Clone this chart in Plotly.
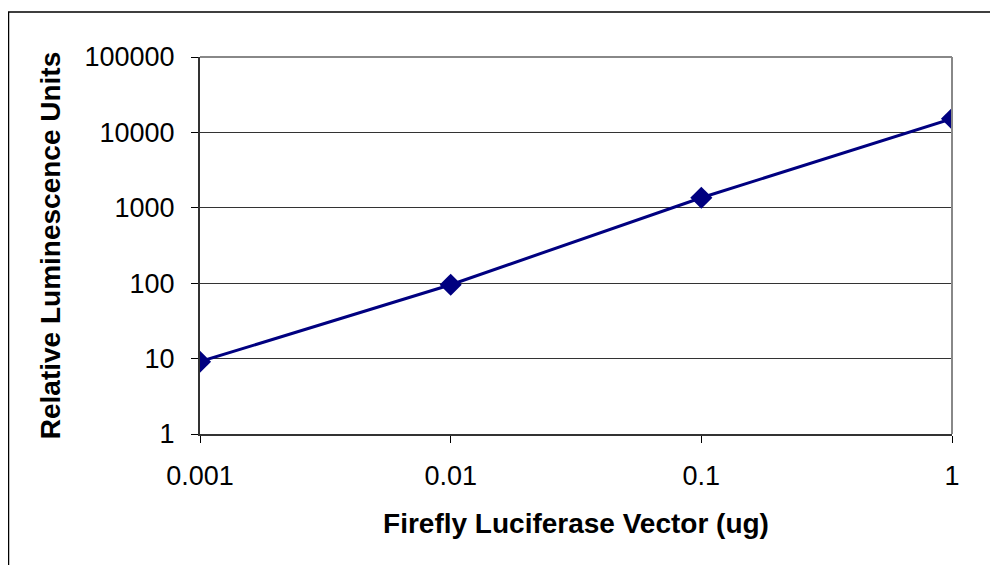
import plotly.graph_objects as go

vector_ug = [0.001, 0.01, 0.1, 1]
rlu = [9.1, 95.5, 1360, 15200]
x_ticks = [0.001, 0.01, 0.1, 1]
x_tick_labels = ["0.001", "0.01", "0.1", "1"]
y_ticks = [1, 10, 100, 1000, 10000, 100000]
y_tick_labels = ["1", "10", "100", "1000", "10000", "100000"]

fig = go.Figure()
fig.add_trace(go.Scatter(
    x=vector_ug, y=rlu, mode="lines+markers",
    line=dict(color="#000080", width=3),
    marker=dict(symbol="diamond", size=17, color="#000080"),
    showlegend=False,
))

font = "Liberation Sans, Arial, sans-serif"
# page body has an 8px margin, so the figure is sized/offset to compensate
W, H = 990, 557
L, R, T, B = 192, 46, 49, 131
fig.update_layout(
    width=W, height=H,
    margin=dict(l=L, r=R, t=T, b=B),
    paper_bgcolor="white", plot_bgcolor="white",
    font=dict(family=font, size=27, color="black"),
)
fig.update_xaxes(
    type="log", range=[-3, 0],
    tickvals=x_ticks, ticktext=x_tick_labels,
    ticks="outside", ticklen=7, tickcolor="black", tickwidth=1,
    showline=True, linecolor="#333", linewidth=2,
    showgrid=False, zeroline=False,
    ticklabelstandoff=10,
    tickfont=dict(size=27),
    title=dict(text="<b>Firefly Luciferase Vector (ug)</b>", font=dict(size=28), standoff=23),
)
fig.update_yaxes(
    type="log", range=[0, 5],
    tickvals=y_ticks, ticktext=y_tick_labels,
    ticks="outside", ticklen=7, tickcolor="black", tickwidth=1,
    showline=True, linecolor="#333", linewidth=2,
    showgrid=True, gridcolor="#333", gridwidth=1,
    zeroline=False,
    ticklabelstandoff=11,
    tickfont=dict(size=27),
    title=dict(text="<b>Relative Luminescence Units</b>", font=dict(size=28), standoff=16),
)
pw, ph = W - L - R, H - T - B
# plot area top and right borders
fig.add_shape(type="line", xref="paper", yref="paper", x0=0, x1=1, y0=1, y1=1,
              line=dict(color="#888", width=2))
fig.add_shape(type="line", xref="paper", yref="paper", x0=1, x1=1, y0=0, y1=1,
              line=dict(color="#888", width=2))
# outer chart frame (extends beyond the image on right and bottom)
fig.add_shape(type="rect", xref="paper", yref="paper",
              x0=(0.5 - L) / pw, x1=1.2, y0=-0.5, y1=(T + ph - 4) / ph,
              line=dict(color="black", width=1.5), layer="below")

fig.write_html("out.html")
